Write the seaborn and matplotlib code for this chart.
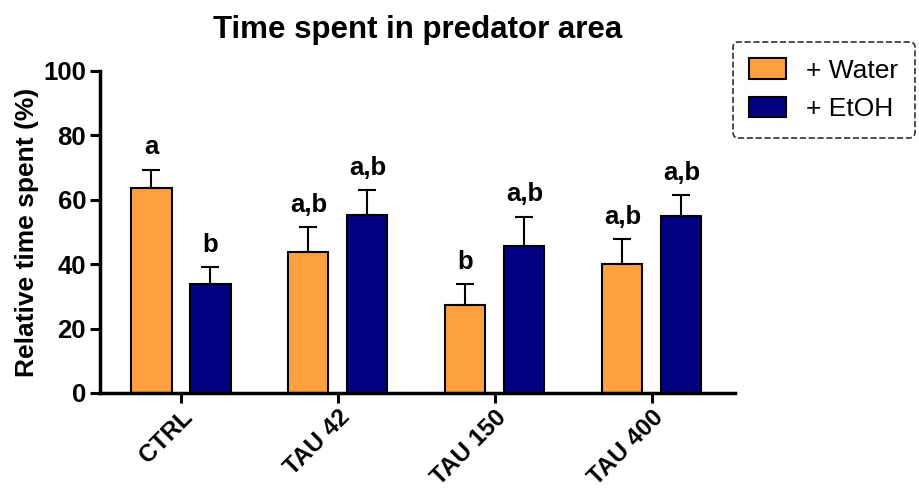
import matplotlib
matplotlib.use("Agg")
import matplotlib.pyplot as plt
import seaborn as sns
import pandas as pd
import numpy as np

categories = ["CTRL", "TAU 42", "TAU 150", "TAU 400"]
series_names = ["+ Water", "+ EtOH"]
water_mean = [63.8, 43.7, 27.4, 40.2]
water_err = [5.5, 7.8, 6.4, 7.6]
etoh_mean = [33.9, 55.3, 45.7, 55.1]
etoh_err = [5.2, 7.7, 9.1, 6.3]
water_letters = ["a", "a,b", "b", "a,b"]
etoh_letters = ["b", "a,b", "a,b", "a,b"]
colors = ["#FFA040", "#000080"]

sns.set_theme(style="ticks")
plt.rcParams["font.family"] = ["Liberation Sans", "DejaVu Sans"]
for k in ["text.color", "axes.labelcolor", "xtick.color", "ytick.color"]:
    plt.rcParams[k] = "black"

df = pd.DataFrame({
    "group": categories * 2,
    "series": [series_names[0]] * 4 + [series_names[1]] * 4,
    "value": water_mean + etoh_mean,
})

fig = plt.figure(figsize=(9.19, 4.93), dpi=100)
ax = fig.add_axes([100 / 919, 1 - 393 / 493, (735 - 100) / 919, (393 - 71) / 493])

sns.barplot(data=df, x="group", y="value", hue="series", palette=colors,
            saturation=1, width=0.752, gap=0.32, edgecolor="black", linewidth=1.5,
            errorbar=None, ax=ax, legend=True)

means = [water_mean, etoh_mean]
errs = [water_err, etoh_err]
letters = [water_letters, etoh_letters]
bar_containers = list(ax.containers)
for si, cont in enumerate(bar_containers):
    for gi, patch in enumerate(cont.patches):
        xc = patch.get_x() + patch.get_width() / 2
        m = means[si][gi]
        e = errs[si][gi]
        ax.errorbar([xc], [m], yerr=[[0], [e]], fmt="none", ecolor="black",
                    elinewidth=1.5, capsize=6.5, capthick=1.5, zorder=1)
        ax.annotate(letters[si][gi], xy=(xc, m + e), xytext=(0, 7.5),
                    textcoords="offset points", ha="center", va="bottom",
                    fontsize=18.5, fontweight="bold")

ax.set_ylim(0, 100)
ax.set_yticks([0, 20, 40, 60, 80, 100])
ax.set_xlim(-0.516, 3.53)
ax.set_xlabel("")
ax.set_ylabel("Relative time spent (%)", fontsize=19, fontweight="bold", labelpad=3)
ax.set_title("Time spent in predator area", fontsize=22.5, fontweight="bold", pad=24)

for lab in ax.get_yticklabels():
    lab.set_fontweight("bold")
    lab.set_fontsize(18.5)
ax.set_xticks(range(len(categories)))
ax.set_xticklabels(categories, rotation=45, ha="right", rotation_mode="anchor",
                   fontsize=17.5, fontweight="bold")
ax.tick_params(axis="both", length=7, width=2.2, color="black")
ax.tick_params(axis="y", pad=3)
ax.tick_params(axis="x", pad=2)
sns.despine(ax=ax)
for side in ["left", "bottom"]:
    ax.spines[side].set_linewidth(2.5)
    ax.spines[side].set_color("black")

handles, labels = ax.get_legend_handles_labels()
ax.get_legend().remove()
leg = fig.legend(handles, labels, loc="upper left", bbox_to_anchor=(733 / 919, 1 - 42 / 493),
                 fontsize=19, frameon=True, fancybox=True, handlelength=1.4,
                 handleheight=0.8, borderpad=0.62, labelspacing=0.55, handletextpad=0.75,
                 borderaxespad=0)
frame = leg.get_frame()
frame.set_linestyle("--")
frame.set_edgecolor("black")
frame.set_linewidth(1.2)
for h in leg.legend_handles:
    h.set_edgecolor("black")
    h.set_linewidth(1.5)

fig.savefig("out.png", dpi=100)
